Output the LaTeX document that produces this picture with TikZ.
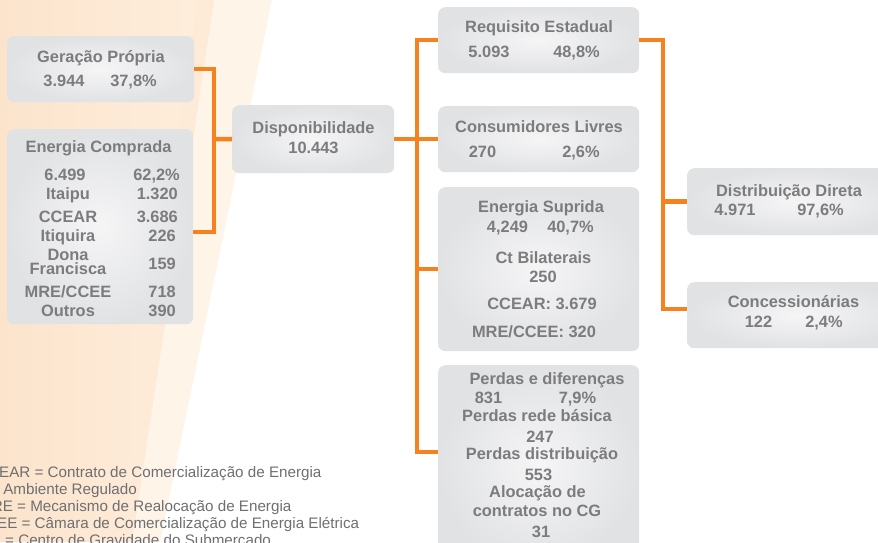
\documentclass[tikz,border=0pt]{standalone}
\usepackage{fontspec}
\setmainfont{Liberation Sans}
\usetikzlibrary{positioning, calc}

\definecolor{linkorange}{HTML}{F5821F}
\definecolor{txtgray}{HTML}{7C7C7E}
\definecolor{leggray}{HTML}{6E6F72}
\definecolor{boxin}{HTML}{F5F5F6}
\definecolor{boxout}{HTML}{E1E2E4}
\definecolor{peachpale}{HTML}{FEF4E8}
\definecolor{peachmid}{HTML}{FCE4CC}
\definecolor{peachlight}{HTML}{FEEEDD}

\begin{document}
\begin{tikzpicture}[
      x=1pt, y=-1pt,
      box/.style={rectangle, rounded corners=7pt, inner color=boxin, outer color=boxout, anchor=north west, inner sep=0pt},
      lbl/.style={text=txtgray, font=\bfseries\fontsize{16.4}{18}\selectfont, inner sep=0pt, anchor=base},
      num/.style={lbl, anchor=base east},
      legend/.style={text=leggray, font=\fontsize{15.2}{17}\selectfont, inner sep=0pt, anchor=base west},
      link/.style={draw=linkorange, line width=4.5pt}
    ]

    \useasboundingbox (0,0) rectangle (878,542);
    \clip (0,0) rectangle (878,542);

    % background stripes
    \fill[peachpale] (0,0) -- (272,0) -- (160,542) -- (0,542) -- cycle;
    \shade[left color=peachmid, right color=peachlight] (0,0) -- (212,0) -- (122,542) -- (0,542) -- cycle;
    \fill[peachmid!60!peachpale] (198,0) -- (214,0) -- (132,542) -- (116,542) -- cycle;

    % boxes
    \node[box, minimum width=187pt, minimum height=66pt] (gp) at (7,36) {};
    \node[box, minimum width=186pt, minimum height=195pt] (ec) at (7,129) {};
    \node[box, minimum width=162pt, minimum height=68pt] (disp) at (232,105) {};
    \node[box, minimum width=201pt, minimum height=66pt] (req) at (438,7) {};
    \node[box, minimum width=201pt, minimum height=66pt] (cons) at (438,106) {};
    \node[box, minimum width=201pt, minimum height=164pt] (sup) at (438,187) {};
    \node[box, minimum width=201pt, minimum height=200pt] (perd) at (438,365) {};
    \node[box, minimum width=220pt, minimum height=67pt] (dd) at (687,168) {};
    \node[box, minimum width=220pt, minimum height=66pt] (conc) at (687,282) {};

    % Geracao Propria
    \node[lbl] (gp-t) at (101,62) {Geração Própria};
    \node[lbl] (gp-v) at (64,86) {3.944};
    \node[lbl] (gp-p) at (133.5,86) {37,8\%};

    % Energia Comprada
    \node[lbl] (ec-t) at (98.5,152) {Energia Comprada};
    \node[lbl] (ec-l1) at (65,180) {6.499};
    \node[lbl] (ec-l2) at (68,199) {Itaipu};
    \node[lbl] (ec-l3) at (68,222) {CCEAR};
    \node[lbl] (ec-l4) at (68,241) {Itiquira};
    \node[lbl] (ec-l5) at (68,260) {Dona};
    \node[lbl] (ec-l6) at (68,274) {Francisca};
    \node[lbl] (ec-l7) at (68,297) {MRE/CCEE};
    \node[lbl] (ec-l8) at (68,316) {Outros};
    \node[num] (ec-r1) at (180,180) {62,2\%};
    \node[num] (ec-r2) at (178,199) {1.320};
    \node[num] (ec-r3) at (178,222) {3.686};
    \node[num] (ec-r4) at (176,241) {226};
    \node[num] (ec-r5) at (176,269) {159};
    \node[num] (ec-r6) at (176,297) {718};
    \node[num] (ec-r7) at (176,316) {390};

    % Disponibilidade
    \node[lbl] (disp-t) at (313.5,133) {Disponibilidade};
    \node[lbl] (disp-v) at (313.5,153) {10.443};

    % Requisito Estadual
    \node[lbl] (req-t) at (539,32) {Requisito Estadual};
    \node[lbl] (req-v) at (489,57) {5.093};
    \node[lbl] (req-p) at (576.5,57) {48,8\%};

    % Consumidores Livres
    \node[lbl] (cons-t) at (539,132) {Consumidores Livres};
    \node[lbl] (cons-v) at (482.5,157) {270};
    \node[lbl] (cons-p) at (581,157) {2,6\%};

    % Energia Suprida
    \node[lbl] (sup-t) at (541,212) {Energia Suprida};
    \node[lbl] (sup-v) at (507.5,232) {4,249};
    \node[lbl] (sup-p) at (570.5,232) {40,7\%};
    \node[lbl] (sup-a) at (543.5,263) {Ct Bilaterais};
    \node[lbl] (sup-b) at (543,282) {250};
    \node[lbl] (sup-c) at (542,309) {CCEAR: 3.679};
    \node[lbl] (sup-d) at (534,337) {MRE/CCEE: 320};

    % Perdas e diferencas
    \node[lbl] (perd-t) at (547,384) {Perdas e diferenças};
    \node[lbl] (perd-v) at (488.5,403) {831};
    \node[lbl] (perd-p) at (577.5,403) {7,9\%};
    \node[lbl] (perd-a) at (537,421) {Perdas rede básica};
    \node[lbl] (perd-b) at (540,442) {247};
    \node[lbl] (perd-c) at (542,459) {Perdas distribuição};
    \node[lbl] (perd-d) at (538.5,480) {553};
    \node[lbl] (perd-e) at (537.5,497) {Alocação de};
    \node[lbl] (perd-f) at (537,516) {contratos no CG};
    \node[lbl] (perd-g) at (541,537) {31};

    % Distribuicao Direta / Concessionarias
    \node[lbl] (dd-t) at (789,196) {Distribuição Direta};
    \node[lbl] (dd-v) at (735,215) {4.971};
    \node[lbl] (dd-p) at (820.5,215) {97,6\%};
    \node[lbl] (conc-t) at (793.5,307) {Concessionárias};
    \node[lbl] (conc-v) at (758.5,327) {122};
    \node[lbl] (conc-p) at (824,327) {2,4\%};

    % legend
    \node[legend] (leg1) at (-23,477) {CCEAR = Contrato de Comercialização de Energia};
    \node[legend] (leg2) at (-18,494) {no Ambiente Regulado};
    \node[legend] (leg3) at (-21,511) {MRE = Mecanismo de Realocação de Energia};
    \node[legend] (leg4) at (-25,528) {CCEE = Câmara de Comercialização de Energia Elétrica};
    \node[legend] (leg5) at (-22,545) {CG = Centro de Gravidade do Submercado};

    % connectors
    \coordinate (jl) at (214,139);
    \coordinate (ecout) at (193,232);
    \coordinate (jr) at (417,139);
    \coordinate (jrbot) at (417,452);
    \coordinate (perdin) at (438,452);
    \coordinate (jd) at (663,309);
    \coordinate (concin) at (687,309);

    \draw[link] (gp.east) -| (jl) |- (ecout);
    \draw[link] (jl) -- (disp.west);
    \draw[link] (disp.east) -- (cons.west);
    \draw[link] (req.west) -| (jrbot) -- (perdin);
    \draw[link] (jr |- sup.west) -- (sup.west);
    \draw[link] (req.east) -| (jd) -- (concin);
    \draw[link] (jd |- dd.west) -- (dd.west);
  \end{tikzpicture}
\end{document}
